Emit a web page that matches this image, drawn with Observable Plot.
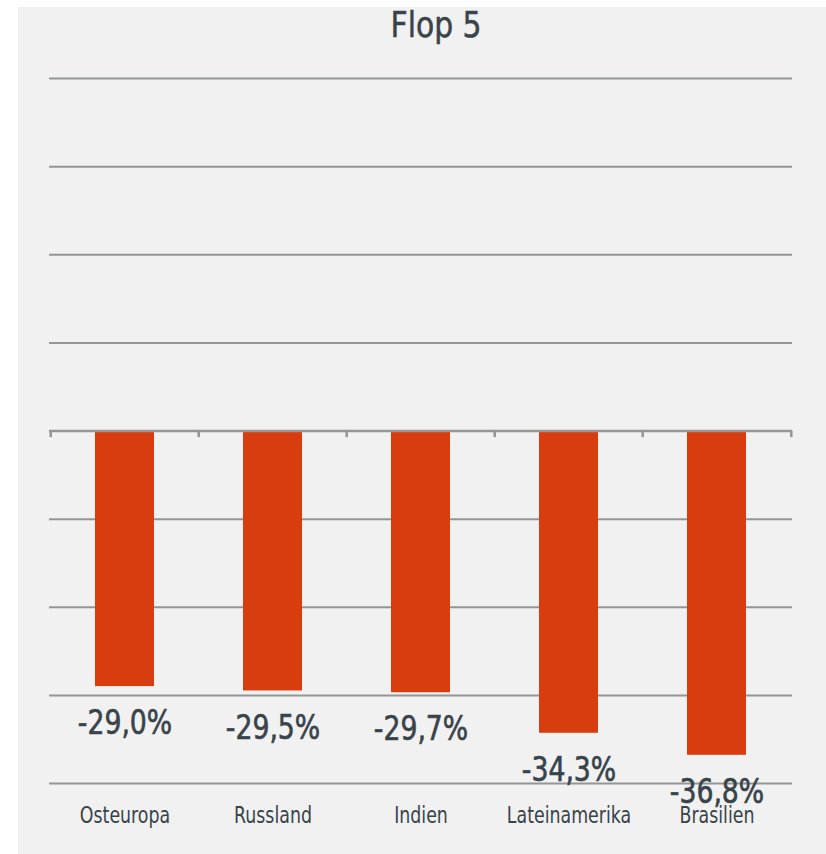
<!DOCTYPE html>
<html>
<head>
<meta charset="utf-8">
<script src="https://cdn.jsdelivr.net/npm/d3@7"></script>
<script src="https://cdn.jsdelivr.net/npm/@observablehq/plot@0.6"></script>
<style>
  html, body { margin: 0; padding: 0; background: #ffffff; }
  #wrap { position: relative; width: 826px; height: 854px; overflow: hidden; }
  #bg { position: absolute; left: 18px; top: 7px; width: 808px; height: 847px; background: #f1f1f1; }
  #title { position: absolute; left: 386px; width: 100px; top: 2px; text-align: center;
           font-family: "DejaVu Sans Condensed", "DejaVu Sans", sans-serif; font-size: 36px; color: #38434a; line-height: 46px;
           transform: scaleX(0.92); transform-origin: center; white-space: nowrap; -webkit-text-stroke: 0.5px #38434a; }
  #chart { position: absolute; left: 0; top: 0; }
  #chart svg { background: transparent !important; overflow: visible; }
</style>
</head>
<body>
<div id="wrap">
  <div id="bg"></div>
  <div id="title">Flop 5</div>
  <div id="chart"></div>
</div>
<script>
const categories = ["Osteuropa", "Russland", "Indien", "Lateinamerika", "Brasilien"];
const values = [-29.0, -29.5, -29.7, -34.3, -36.8];
const valueLabels = ["-29,0%", "-29,5%", "-29,7%", "-34,3%", "-36,8%"];
const gridValues = [40, 30, 20, 10, -10, -20, -30, -40];

const data = categories.map((c, i) => ({category: c, value: values[i], label: valueLabels[i]}));

const W = 826, H = 854;
const mL = 49, mR = 34, mT = 78, mB = 71;
const step = (W - mL - mR) / categories.length;
const textColor = "#38434a";
const gridColor = "#939695";

const chart = Plot.plot({
  width: W,
  height: H,
  marginLeft: mL,
  marginRight: mR,
  marginTop: mT,
  marginBottom: mB,
  style: {background: "transparent", color: textColor},
  x: {domain: categories, paddingInner: 0.6, paddingOuter: 0.3, label: null},
  y: {domain: [-40, 40], label: null, axis: null},
  marks: [
    Plot.ruleY(gridValues, {stroke: gridColor, strokeWidth: 2}),
    Plot.barY(data, {x: "category", y: "value", fill: "#d83d10"}),
    Plot.ruleY([0], {stroke: gridColor, strokeWidth: 2.5}),
    Plot.ruleX(categories, {x: d => d, dx: -step / 2, y1: 0, y2: -0.75, stroke: gridColor, strokeWidth: 2.5}),
    Plot.ruleX(categories.slice(-1), {x: d => d, dx: step / 2, y1: 0, y2: -0.75, stroke: gridColor, strokeWidth: 2.5}),
    Plot.text(data, {x: "category", y: "value", text: "label", dy: 37, lineAnchor: "middle",
      fontSize: 33, fill: textColor, stroke: textColor, strokeWidth: 0.6, fontFamily: "DejaVu Sans Condensed"}),
    Plot.axisX({tickSize: 0, tickPadding: 23, fontSize: 23, fill: textColor,
      fontFamily: "DejaVu Sans Condensed", label: null})
  ]
});
document.getElementById("chart").append(chart);

// narrow the glyphs to match the condensed typeface of the reference
function squeeze(selector, factor) {
  chart.querySelectorAll(selector).forEach(t => {
    const len = t.getComputedTextLength();
    t.setAttribute("textLength", (len * factor).toFixed(1));
    t.setAttribute("lengthAdjust", "spacingAndGlyphs");
  });
}
squeeze('g[aria-label="x-axis tick label"] text', 0.84);
squeeze('g[aria-label="text"] text', 0.9);
</script>
</body>
</html>
